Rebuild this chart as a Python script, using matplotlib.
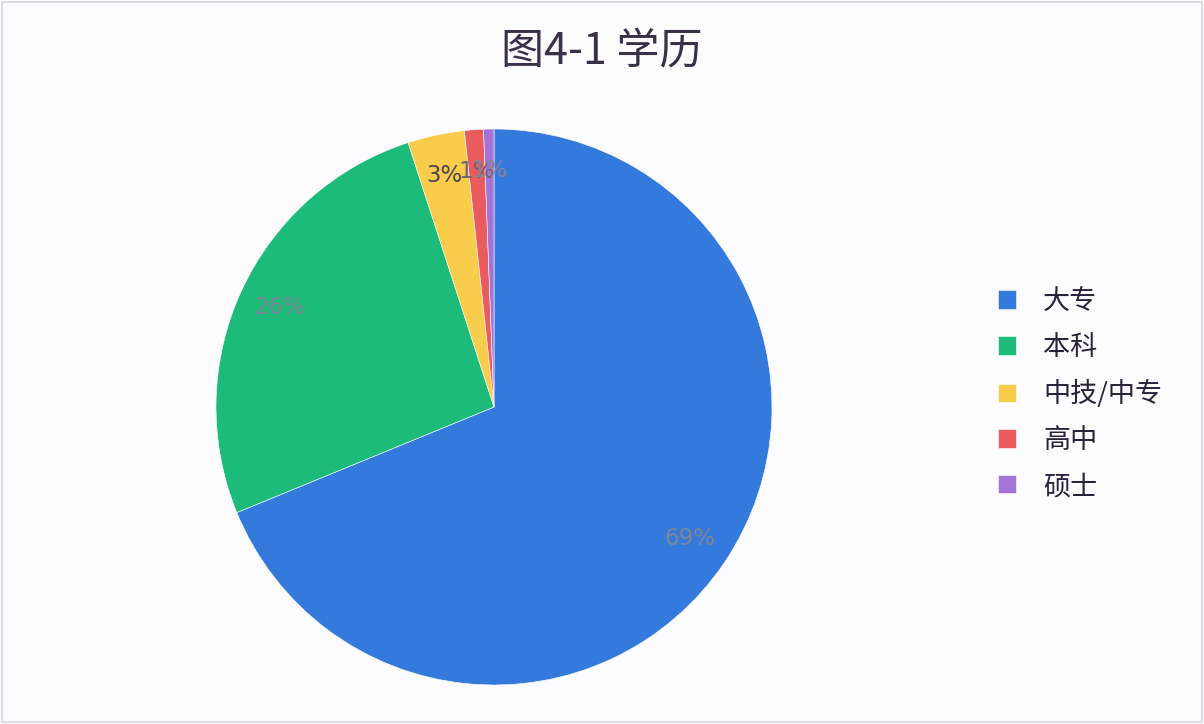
import matplotlib
import matplotlib.pyplot as plt
from matplotlib.patches import Rectangle

matplotlib.use("Agg")

plt.rcParams["font.family"] = ["Noto Sans CJK SC", "DejaVu Sans"]

# Data
labels = ["大专", "本科", "中技/中专", "高中", "硕士"]
shares = [68.8, 26.2, 3.3, 1.1, 0.6]
colors = ["#3479dc", "#1dbb7a", "#f8cd4b", "#ea5b5e", "#a374d6"]
label_colors = ["#7c8698", "#7c8698", "#4a4652", "#6a6470", "#8a8496"]
title = "图4-1 学历"

W, H = 1204, 724
fig = plt.figure(figsize=(W / 100, H / 100), dpi=100)
fig.patch.set_facecolor("#fcfcfe")
fig.patches.append(Rectangle((2 / W, 2 / H), 1 - 4 / W, 1 - 4 / H,
                             transform=fig.transFigure, fill=False,
                             edgecolor="#d6d6dc", linewidth=1.2))

# pie axes: center (494, 407) px, radius 278 px
cx, cy, r = 494, 407, 278
ax = fig.add_axes([(cx - r) / W, (H - cy - r) / H, 2 * r / W, 2 * r / H])
ax.set_facecolor("none")

wedges, texts, autotexts = ax.pie(
    shares,
    colors=colors,
    startangle=90,
    counterclock=False,
    radius=1.0,
    autopct=lambda p: f"{p:.0f}%",
    pctdistance=0.85,
    wedgeprops=dict(edgecolor="white", linewidth=0.4),
    textprops=dict(fontsize=16.5, family=["DejaVu Sans"]),
)
for t, c in zip(autotexts, label_colors):
    t.set_color(c)
ax.set_xlim(-1, 1)
ax.set_ylim(-1, 1)
ax.set_aspect("equal")
ax.axis("off")

fig.text(602 / W, 1 - 52 / H, title, ha="center", va="center",
         fontsize=31, color="#3a3048")

fig.legend(
    wedges, labels,
    loc="center left",
    bbox_to_anchor=(974 / W, 1 - 394 / H),
    frameon=False,
    fontsize=19.5,
    handlelength=0.65,
    handleheight=0.65,
    handletextpad=1.0,
    labelspacing=0.7,
    labelcolor="#2a2238",
)

fig.savefig("out.png", dpi=100, facecolor=fig.get_facecolor())
